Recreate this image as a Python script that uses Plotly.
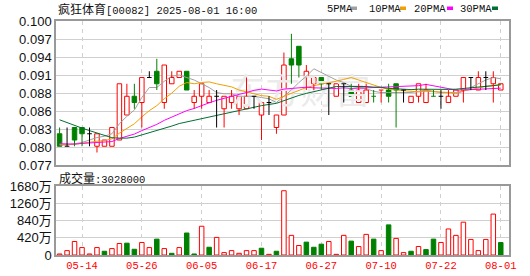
import plotly.graph_objects as go
import numpy as np

# ---------------- data ----------------
DATES = ["05-09", "05-12", "05-13", "05-14", "05-15", "05-16", "05-19", "05-20", "05-21", "05-22",
         "05-23", "05-26", "05-27", "05-28", "05-29", "05-30", "06-02", "06-03", "06-04", "06-05",
         "06-06", "06-09", "06-10", "06-11", "06-12", "06-13", "06-16", "06-17", "06-18", "06-19",
         "06-20", "06-23", "06-24", "06-25", "06-26", "06-27", "06-30", "07-02", "07-03", "07-04",
         "07-07", "07-08", "07-09", "07-10", "07-11", "07-14", "07-15", "07-16", "07-17", "07-18",
         "07-21", "07-22", "07-23", "07-24", "07-25", "07-28", "07-29", "07-30", "07-31", "08-01"]

OPEN = [0.082, 0.080, 0.083, 0.083, 0.082, 0.080, 0.080, 0.080, 0.081, 0.085,
        0.088, 0.087, 0.091, 0.092, 0.087, 0.090, 0.091, 0.092, 0.087, 0.088,
        0.087, 0.088, 0.086, 0.087, 0.086, 0.086, 0.088, 0.085, 0.087, 0.083,
        0.085, 0.094, 0.096, 0.091, 0.090, 0.091, 0.090, 0.088, 0.090, 0.089,
        0.087, 0.087, 0.088, 0.089, 0.089, 0.090, 0.089, 0.087, 0.088, 0.087,
        0.088, 0.088, 0.087, 0.088, 0.089, 0.091, 0.089, 0.091, 0.090, 0.089]
HIGH = [0.083, 0.083, 0.083, 0.083, 0.083, 0.082, 0.081, 0.083, 0.090, 0.090,
        0.090, 0.091, 0.092, 0.094, 0.093, 0.092, 0.092, 0.092, 0.089, 0.090,
        0.089, 0.089, 0.088, 0.089, 0.088, 0.091, 0.088, 0.087, 0.088, 0.085,
        0.095, 0.098, 0.096, 0.093, 0.091, 0.091, 0.090, 0.090, 0.090, 0.090,
        0.090, 0.090, 0.089, 0.089, 0.090, 0.090, 0.089, 0.088, 0.090, 0.090,
        0.089, 0.089, 0.089, 0.089, 0.091, 0.091, 0.092, 0.092, 0.092, 0.090]
LOW = [0.080, 0.080, 0.080, 0.080, 0.080, 0.079, 0.080, 0.080, 0.081, 0.085,
       0.086, 0.083, 0.091, 0.089, 0.086, 0.090, 0.091, 0.089, 0.086, 0.086,
       0.087, 0.083, 0.083, 0.086, 0.085, 0.086, 0.086, 0.081, 0.085, 0.082,
       0.085, 0.090, 0.091, 0.089, 0.089, 0.089, 0.085, 0.088, 0.087, 0.088,
       0.087, 0.087, 0.087, 0.087, 0.087, 0.083, 0.087, 0.087, 0.087, 0.087,
       0.088, 0.086, 0.087, 0.088, 0.087, 0.089, 0.089, 0.089, 0.087, 0.089]
CLOSE = [0.080, 0.080, 0.081, 0.082, 0.082, 0.082, 0.081, 0.083, 0.090, 0.088,
         0.087, 0.091, 0.091, 0.090, 0.093, 0.091, 0.092, 0.089, 0.088, 0.090,
         0.088, 0.088, 0.088, 0.088, 0.088, 0.088, 0.088, 0.087, 0.087, 0.085,
         0.093, 0.093, 0.093, 0.092, 0.091, 0.090, 0.090, 0.090, 0.090, 0.088,
         0.089, 0.089, 0.088, 0.089, 0.088, 0.089, 0.089, 0.088, 0.090, 0.089,
         0.088, 0.088, 0.088, 0.089, 0.091, 0.091, 0.091, 0.091, 0.091, 0.090]
# volume in 万 shares
VOLUME_WAN = [25, 107, 329, 181, 25, 181, 91, 156, 280, 288,
              140, 305, 181, 387, 156, 41, 181, 535, 25, 700,
              189, 428, 58, 107, 41, 107, 107, 165, 16, 91,
              1565, 478, 231, 313, 189, 264, 329, 16, 478, 338,
              206, 502, 387, 107, 733, 404, 58, 91, 206, 132,
              387, 305, 634, 478, 799, 379, 107, 379, 996, 302.8]
# closes of the 29 sessions before the first shown day (estimated from the MA lines)
PRIOR_CLOSE = [0.094, 0.094, 0.095, 0.094, 0.094, 0.093, 0.093, 0.092, 0.088,
               0.082, 0.081, 0.081, 0.080, 0.081, 0.080, 0.080, 0.081, 0.080, 0.081,
               0.080, 0.080, 0.081, 0.080, 0.080, 0.081, 0.080, 0.080, 0.081, 0.080]

TICK_DATES = ["05-14", "05-26", "06-05", "06-17", "06-27", "07-10", "07-22", "08-01"]
PRICE_TICKS = [0.077, 0.079875, 0.08275, 0.085625, 0.0885, 0.091375, 0.09425, 0.097125, 0.100]
PRICE_TICK_TEXT = ["0.077", "0.080", "0.083", "0.086", "0.088", "0.091", "0.094", "0.097", "0.100"]
VOL_TICKS = [0, 4200000, 8400000, 12600000, 16800000]
VOL_TICK_TEXT = ["0", "420万", "840万", "1260万", "1680万"]
MA_PERIODS = [5, 10, 20, 30]
MA_NAMES = ["5PMA", "10PMA", "20PMA", "30PMA"]
MA_COLORS = ["#a0a0a0", "#f0a000", "#ff00ff", "#006f30"]
TITLE = "疯狂体育[00082] 2025-08-01 16:00"
LAST_VOLUME = 3028000
WATERMARK = "东方财富"

RED = "#ff0000"
GREEN = "#008000"
BLACK = "#000000"
W, H = 530, 276

def px(xp):
    return xp / W

def py(yp):
    return 1 - yp / H

n = len(DATES)
xs = list(range(n))
volume = [v * 10000 for v in VOLUME_WAN]

# ---------------- candles ----------------
segs = {RED: ([], []), GREEN: ([], []), BLACK: ([], [])}

def seg(col, x0, x1, y0, y1):
    a, b = segs[col]
    a += [x0, x1, None]
    b += [y0, y1, None]

up_x, up_b, up_h = [], [], []
dn_x, dn_b, dn_h = [], [], []
vu_x, vu_y, vd_x, vd_y = [], [], [], []
prev = PRIOR_CLOSE[-1]
HW = 0.31
for i, (o, h, l, c) in enumerate(zip(OPEN, HIGH, LOW, CLOSE)):
    if c > o:
        col = RED
    elif c < o:
        col = GREEN
    else:
        col = RED if c > prev else (GREEN if c < prev else BLACK)
    top, bot = max(o, c), min(o, c)
    if c != o:
        if h > top:
            seg(col, i, i, top, h)
        if l < bot:
            seg(col, i, i, l, bot)
        if c > o:
            up_x.append(i); up_b.append(o); up_h.append(c - o)
        else:
            dn_x.append(i); dn_b.append(c); dn_h.append(o - c)
    else:
        seg(col, i, i, l, h)
        seg(col, i - HW, i + HW, o, o)
    if c >= prev:
        vu_x.append(i); vu_y.append(volume[i])
    else:
        vd_x.append(i); vd_y.append(volume[i])
    prev = c

fig = go.Figure()

# watermark
fig.add_trace(go.Scatter(x=[32.2], y=[0.0881], mode="text", text=[WATERMARK],
                         textfont=dict(family="Noto Sans CJK SC", size=35, color="#ebebeb"),
                         hoverinfo="skip", xaxis="x", yaxis="y"))

fig.add_trace(go.Bar(x=up_x, y=up_h, base=up_b, width=0.6, xaxis="x", yaxis="y",
                     marker=dict(color="white", line=dict(color=RED, width=1))))
fig.add_trace(go.Bar(x=dn_x, y=dn_h, base=dn_b, width=0.6, xaxis="x", yaxis="y",
                     marker=dict(color=GREEN, line=dict(color=GREEN, width=1))))

# moving averages
allc = np.array(PRIOR_CLOSE + CLOSE)
off = len(PRIOR_CLOSE)
for p, name, colr in zip(MA_PERIODS, MA_NAMES, MA_COLORS):
    ma = [allc[off + i - p + 1: off + i + 1].mean() for i in range(n)]
    fig.add_trace(go.Scatter(x=xs, y=ma, mode="lines", name=name, xaxis="x", yaxis="y",
                             line=dict(color=colr, width=1)))

for col, (a, b) in segs.items():
    fig.add_trace(go.Scatter(x=a, y=b, mode="lines", xaxis="x", yaxis="y",
                             line=dict(color=col, width=1)))

# volume
fig.add_trace(go.Bar(x=vu_x, y=vu_y, width=0.6, xaxis="x2", yaxis="y2",
                     marker=dict(color="white", line=dict(color=RED, width=1))))
fig.add_trace(go.Bar(x=vd_x, y=vd_y, width=0.6, xaxis="x2", yaxis="y2",
                     marker=dict(color=GREEN, line=dict(color=GREEN, width=1))))

tickpos = [DATES.index(d) for d in TICK_DATES]
XR = [-0.48, 60.1]
dom_x = [px(56), px(509)]
common_x = dict(domain=dom_x, range=XR, tickvals=tickpos, showgrid=True, gridcolor="#d0d0d0",
                griddash="4px,4px", gridwidth=1, showline=True, mirror=True, linecolor="#999999",
                linewidth=1.5, zeroline=False, ticks="", automargin=False, fixedrange=True)
common_y = dict(showgrid=True, gridcolor="#d0d0d0", gridwidth=1.3, showline=True, mirror=True,
                linecolor="#999999", linewidth=1.5, zeroline=False, ticks="", automargin=False,
                tickfont=dict(family="Liberation Sans, Noto Sans CJK SC", size=13, color="#111111"))

fig.update_layout(
    width=W, height=H, margin=dict(l=0, r=0, t=0, b=0),
    paper_bgcolor="white", plot_bgcolor="white", showlegend=False, barmode="overlay",
    xaxis=dict(anchor="y", showticklabels=False, **common_x),
    yaxis=dict(anchor="x", domain=[py(165), py(21.3)], range=[0.077, 0.100],
               tickvals=PRICE_TICKS, ticktext=PRICE_TICK_TEXT, **common_y),
    xaxis2=dict(anchor="y2", matches="x", ticktext=TICK_DATES, showticklabels=True,
                tickfont=dict(family="Liberation Mono", size=10.5, color=RED), **common_x),
    yaxis2=dict(anchor="x2", domain=[py(255), py(186)], range=[0, 16800000],
                tickvals=VOL_TICKS, ticktext=VOL_TICK_TEXT, **common_y),
)

ann = []
ann.append(dict(x=px(56), y=py(8.5), xref="paper", yref="paper", xanchor="left", yanchor="middle",
                showarrow=False,
                text="<span style='font-family:Noto Sans CJK SC;font-size:12px'>疯狂体育</span>[00082] 2025-08-01 16:00",
                font=dict(family="Liberation Mono, Noto Sans CJK SC", size=10.5, color="#111111")))
ann.append(dict(x=px(57), y=py(177), xref="paper", yref="paper", xanchor="left", yanchor="middle",
                showarrow=False,
                text="<span style='font-family:Noto Sans CJK SC;font-size:12px'>成交量</span>:" + str(LAST_VOLUME),
                font=dict(family="Liberation Mono, Noto Sans CJK SC", size=10.5, color="#111111")))
leg_x = [325, 367, 412, 458]
rect_x = [351, 400, 447, 492]
shapes = []
for name, colr, lx, rx in zip(MA_NAMES, MA_COLORS, leg_x, rect_x):
    ann.append(dict(x=px(lx), y=py(9), xref="paper", yref="paper", xanchor="left", yanchor="middle",
                    showarrow=False, text=name,
                    font=dict(family="Liberation Mono", size=10.5, color="#111111")))
    shapes.append(dict(type="rect", xref="paper", yref="paper", x0=px(rx), x1=px(rx + 6),
                       y0=py(10), y1=py(6.5), fillcolor=colr, line=dict(width=0)))
fig.update_layout(annotations=ann, shapes=shapes)

fig.write_html("out.html")
